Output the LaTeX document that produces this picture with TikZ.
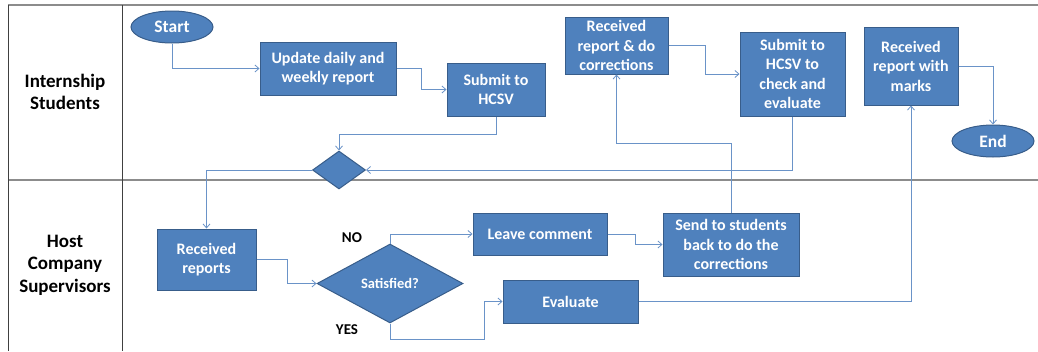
\documentclass[tikz,border=0pt]{standalone}
\usepackage{fontspec}
\setmainfont{Carlito}
\usepackage{xcolor}
\usetikzlibrary{shapes.geometric}
\usetikzlibrary{arrows.meta}

\definecolor{boxblue}{HTML}{4F81BD}
\definecolor{boxedge}{HTML}{385D8A}
\definecolor{linkblue}{HTML}{6A93C8}
\definecolor{lanegray}{HTML}{8C8C8C}

\begin{document}
\begin{tikzpicture}[
  x=1pt, y=-1pt,
  procbox/.style={rectangle,draw=boxedge,fill=boxblue,line width=1pt,inner sep=2pt,
    align=center,text=white,font=\fontsize{16}{19.5}\selectfont\bfseries},
  termnode/.style={ellipse,draw=boxedge,fill=boxblue,line width=1pt,inner sep=0pt,
    minimum width=82,minimum height=32,text=white,font=\fontsize{17.5}{20}\selectfont\bfseries},
  decnode/.style={diamond,draw=boxedge,fill=boxblue,line width=1pt,inner sep=0pt,
    text=white,font=\fontsize{14.5}{17}\selectfont\bfseries},
  lanelabel/.style={align=center,font=\fontsize{19}{22.5}\selectfont\bfseries},
  branchlabel/.style={font=\fontsize{15}{17}\selectfont\bfseries},
  link/.style={draw=linkblue,line width=0.8pt,-{Straight Barb[length=4pt,width=7pt]}}
]
\useasboundingbox (0,0) rectangle (1038,351);

% swim lanes
\draw[lanegray,line width=2pt] (8,5) -- (1038,5);
\draw[lanegray,line width=2pt] (8,179.5) -- (1038,179.5);
\draw[black!75,line width=0.8pt] (8,5) -- (8,351);
\draw[black!75,line width=0.8pt] (122,5) -- (122,351);
\node[lanelabel] (lanestud) at (65,92) {Internship\\Students};
\node[lanelabel] (lanehost) at (65,265) {Host\\Company\\Supervisors};

% student lane
\node[termnode] (start) at (172,27) {Start};
\node[procbox,minimum width=136,minimum height=53] (update) at (328,68.5) {Update daily and\\weekly report};
\node[procbox,minimum width=98,minimum height=53] (submit) at (496,89.5) {Submit to\\HCSV};
\node[decnode,minimum width=53,minimum height=38] (dec) at (339,170) {};
\node[procbox,minimum width=103,minimum height=57] (corr) at (616.5,45.5) {Received\\report \& do\\corrections};
\node[procbox,minimum width=105,minimum height=84] (check) at (792.5,74) {Submit to\\HCSV to\\check and\\evaluate};
\node[procbox,minimum width=94,minimum height=78] (marks) at (911,66) {Received\\report with\\marks};
\node[termnode] (end) at (993,141) {End};

% supervisor lane
\node[procbox,minimum width=99,minimum height=61] (recv) at (206.5,259.5) {Received\\reports};
\node[decnode,minimum width=146,minimum height=79] (sat) at (390,283.5) {Satisfied?};
\node[procbox,minimum width=134,minimum height=42] (leave) at (540,234) {Leave comment};
\node[procbox,minimum width=136,minimum height=63] (send) at (731,244.5) {Send to students\\back to do the\\corrections};
\node[procbox,minimum width=135,minimum height=43] (eval) at (570.5,301.5) {Evaluate};
\node[branchlabel] (nolabel) at (352,238) {NO};
\node[branchlabel] (yeslabel) at (347,330) {YES};

% connectors
\draw[link] (start.south) |- (update.west);
\draw[link] (update.east) -- ++(25,0) |- (submit.west);
\draw[link] (submit.south) -- ++(0,18) -| (dec.north);
\draw[link] (check.south) |- (dec.east);
\draw[link] (dec.west) -| (recv.north);
\draw[link] (recv.east) -- ++(31,0) |- (sat.west);
\draw[link] (sat.north) |- (leave.west);
\draw[link] (leave.east) -- ++(28,0) |- (send.west);
\draw[link] (send.north) -- ++(0,-69) -| (corr.south);
\draw[link] (corr.east) -- ++(37,0) |- (check.west);
\draw[link] (sat.south) |- ++(94,16) |- (eval.west);
\draw[link] (eval.east) -| (marks.south);
\draw[link] (marks.east) -| (end.north);

\end{tikzpicture}
\end{document}
